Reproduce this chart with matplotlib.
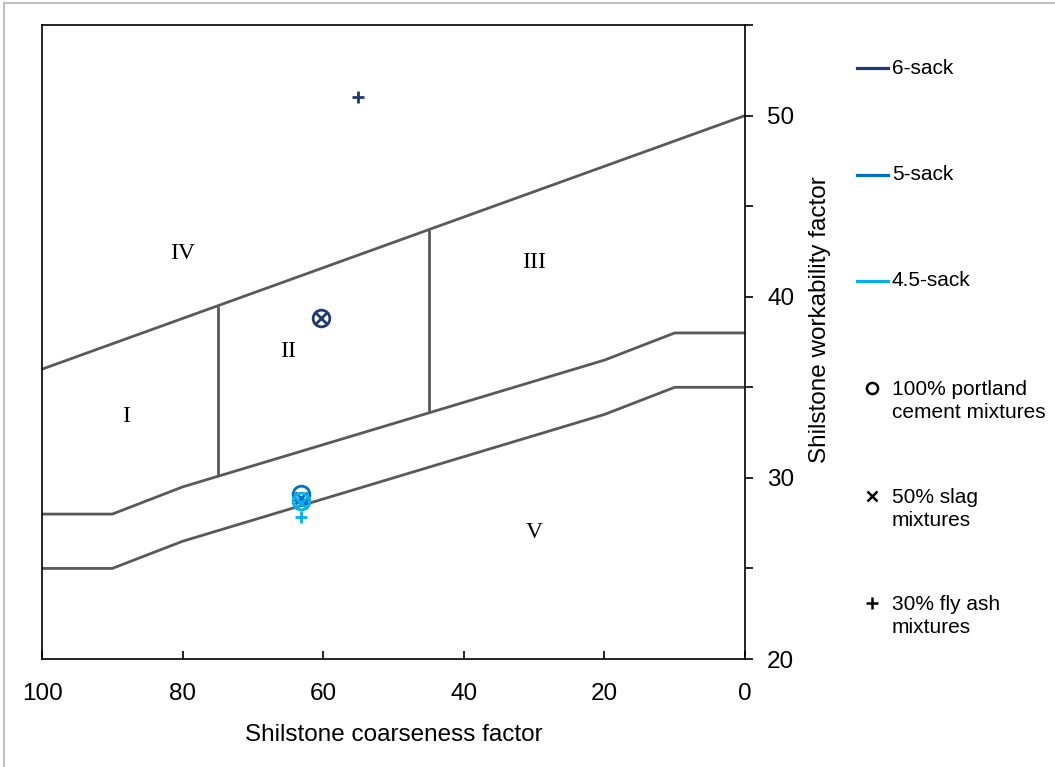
import matplotlib
matplotlib.use("Agg")
import matplotlib.pyplot as plt
from matplotlib.lines import Line2D
from matplotlib.ticker import MultipleLocator

plt.rcParams['font.family'] = ['Liberation Sans', 'DejaVu Sans']

# ---- data ----
upper_x = [100, 0]
upper_y = [36, 50]
mid_x = [100, 90, 80, 20, 10, 0]
mid_y = [28, 28, 29.5, 36.5, 38, 38]
low_x = [100, 90, 80, 20, 10, 0]
low_y = [25, 25, 26.5, 33.5, 35, 35]
div1_x = [75, 75]
div1_y = [30.1, 39.5]
div2_x = [45, 45]
div2_y = [33.6, 43.7]

zone_labels = ['I', 'II', 'III', 'IV', 'V']
zone_x = [88, 65, 30, 80, 30]
zone_y = [33.4, 37.0, 41.9, 42.4, 27.0]

series_names = ['6-sack', '5-sack', '4.5-sack']
series_colors = ['#1F3A70', '#0070C0', '#00B0F0']
pc_x = [60.3, 63.2, 63.2]
pc_y = [38.8, 29.1, 28.7]
slag_x = [60.3, 63.2, 63.2]
slag_y = [38.8, 28.9, 28.6]
fa_x = [55.0, None, 63.2]
fa_y = [51.0, None, 27.85]

type_labels = ['100% portland\ncement mixtures', '50% slag\nmixtures', '30% fly ash\nmixtures']

# ---- figure ----
W, H = 1055, 767
fig = plt.figure(figsize=(W / 100, H / 100), dpi=100)
ax = fig.add_axes([42 / W, 1 - 659 / H, (745 - 42) / W, (659 - 25) / H])

line_c = '#595959'
for xs, ys in [(upper_x, upper_y), (mid_x, mid_y), (low_x, low_y),
               (div1_x, div1_y), (div2_x, div2_y)]:
    ax.plot(xs, ys, color=line_c, lw=2.0, solid_capstyle='butt', zorder=2)

for lab, x, y in zip(zone_labels, zone_x, zone_y):
    ax.text(x, y, lab, family='Liberation Serif', fontsize=17,
            ha='center', va='center')

for i, c in enumerate(series_colors):
    ax.plot(pc_x[i], pc_y[i], 'o', ms=12, mfc='none', mec=c, mew=2.0, zorder=3)
    ax.plot(slag_x[i], slag_y[i], 'x', ms=8, mec=c, mew=2.0, zorder=3)
    if fa_x[i] is not None:
        ax.plot(fa_x[i], fa_y[i], '+', ms=8, mec=c, mew=2.0, zorder=3)

ax.set_xlim(100, 0)
ax.set_ylim(20, 55)
ax.xaxis.set_major_locator(MultipleLocator(20))
ax.tick_params(axis='x', direction='in', length=6, width=1.2, pad=17,
               labelsize=17.5, top=False)
ax.yaxis.tick_right()
ax.yaxis.set_major_locator(MultipleLocator(10))
ax.yaxis.set_minor_locator(MultipleLocator(5))
ax.tick_params(axis='y', which='both', direction='out', length=6, width=1.2,
               pad=10, labelsize=17.5, left=False)
for s in ax.spines.values():
    s.set_linewidth(1.2)
    s.set_color('black')

fig.text(394 / W, 1 - 735 / H, 'Shilstone coarseness factor', fontsize=17.5,
         ha='center', va='center')
fig.text(820 / W, 1 - 320 / H, 'Shilstone workability factor', fontsize=17.5,
         ha='center', va='center', rotation=90)

# ---- legend ----
leg_y = [68, 175, 281]
for name, c, y in zip(series_names, series_colors, leg_y):
    fig.add_artist(Line2D([857 / W, 888 / W], [1 - y / H, 1 - y / H],
                          color=c, lw=2.3, transform=fig.transFigure))
    fig.text(892 / W, 1 - y / H, name, fontsize=15, ha='left', va='center')

mk_y = [388, 496, 603]
mk = ['o', 'x', '+']
mk_size = [8, 7, 8]
for m, s, lab, y in zip(mk, mk_size, type_labels, mk_y):
    fig.add_artist(Line2D([872 / W], [1 - y / H], marker=m, ms=s, mfc='none',
                          mec='black', mew=1.8, ls='none',
                          transform=fig.transFigure))
    fig.text(892 / W, 1 - (y - 8) / H, lab, fontsize=15, ha='left', va='top',
             linespacing=1.25)

# outer frame (left and top)
fig.add_artist(Line2D([4 / W, 4 / W], [0, 1 - 3 / H], color='#BFBFBF', lw=1.5,
                      transform=fig.transFigure))
fig.add_artist(Line2D([4 / W, 1], [1 - 3 / H, 1 - 3 / H], color='#BFBFBF', lw=1.5,
                      transform=fig.transFigure))

fig.savefig('out.png', dpi=100)
